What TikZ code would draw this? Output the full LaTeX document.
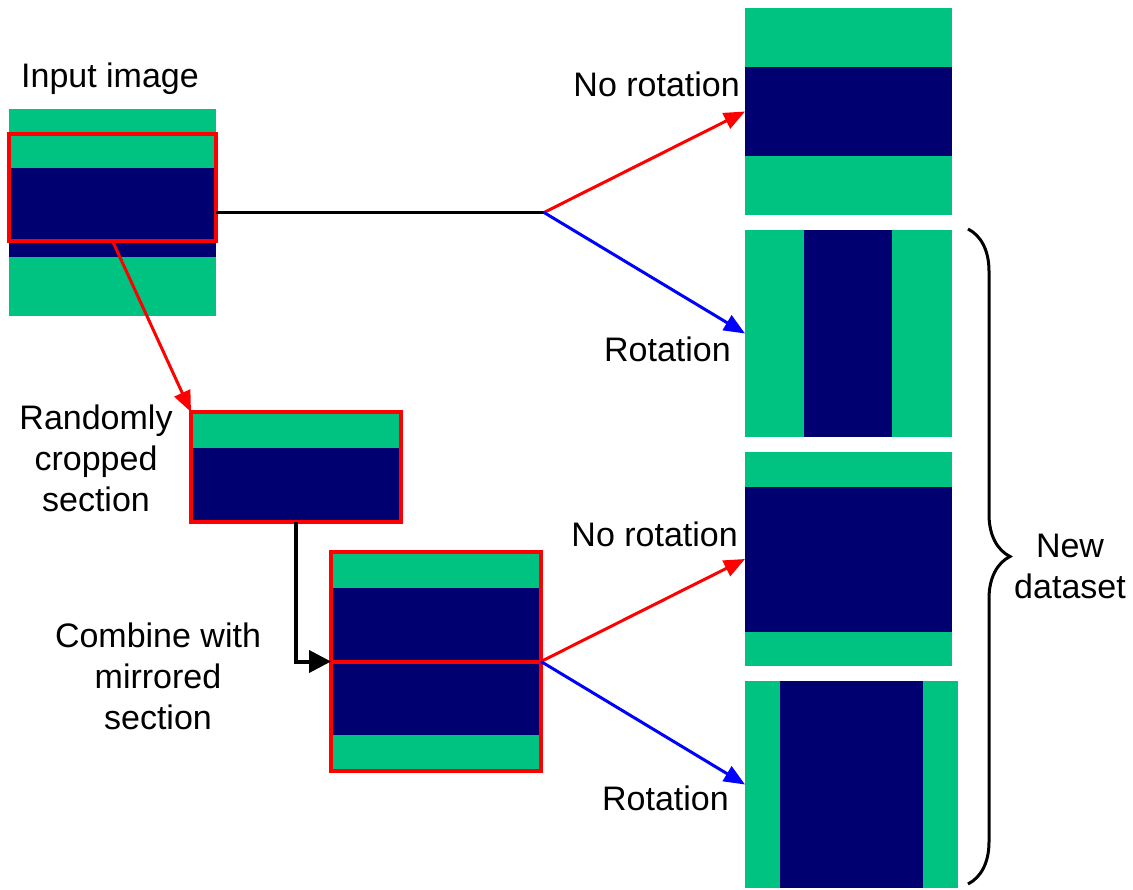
\documentclass[tikz,border=0pt]{standalone}
\usepackage{fontspec}
\setmainfont{Liberation Sans}
\usetikzlibrary{arrows.meta,decorations.pathreplacing}
\definecolor{mygreen}{RGB}{0,195,130}
\definecolor{mynavy}{RGB}{0,0,112}
\begin{document}
\begin{tikzpicture}[x=1pt,y=-1pt,
  box/.style={inner sep=0pt,outer sep=0pt,draw=none},
  frame/.style={inner sep=0pt,outer sep=0pt,draw=red,line width=4pt},
  lbl/.style={inner sep=0pt,font=\fontsize{34}{41}\selectfont},
  tip/.style={-{Triangle[length=21pt,width=17pt]}},
  bigtip/.style={-{Triangle[length=22pt,width=22pt]}},
  conn/.style={line width=3pt}]
\useasboundingbox (0,0) rectangle (1133,890);
% ---- input image
\fill[mygreen] (9,109) rectangle (216,316);
\fill[mynavy] (9,168) rectangle (216,257);
\node[box,minimum width=207pt,minimum height=207pt] (in) at (112.5,212.5) {};
\node[frame,minimum width=207pt,minimum height=107pt] (sel) at (112.5,187.5) {};
% ---- cropped section
\fill[mygreen] (191,412) rectangle (401,522);
\fill[mynavy] (191,448) rectangle (401,522);
\node[frame,minimum width=210pt,minimum height=110pt] (crop) at (296,467) {};
% ---- combined
\fill[mygreen] (331,552) rectangle (541,771);
\fill[mynavy] (331,588) rectangle (541,735);
\node[frame,minimum width=210pt,minimum height=219pt] (comb) at (436,661.5) {};
\draw[red,line width=4pt] (comb.west) -- (comb.east);
% ---- outputs
\fill[mygreen] (745,8) rectangle (952,215);
\fill[mynavy] (745,67) rectangle (952,156);
\node[box,minimum width=207pt,minimum height=207pt] (o1) at (848.5,111.5) {};
\fill[mygreen] (745,230) rectangle (952,437);
\fill[mynavy] (804,230) rectangle (892,437);
\node[box,minimum width=207pt,minimum height=207pt] (o2) at (848.5,333.5) {};
\fill[mygreen] (745,452) rectangle (952,666);
\fill[mynavy] (745,487) rectangle (952,632);
\node[box,minimum width=207pt,minimum height=214pt] (o3) at (848.5,559) {};
\fill[mygreen] (745,681) rectangle (958,888);
\fill[mynavy] (780,681) rectangle (923,888);
\node[box,minimum width=213pt,minimum height=207pt] (o4) at (851.5,784.5) {};
% ---- connectors
\coordinate (split) at (544,212.5);
\draw[conn,black] (in.east) -- (split);
\draw[conn,red,tip] (split) -- (o1.west);
\draw[conn,blue,tip] (split) -- (o2.west);
\draw[conn,red,tip] (sel.south) -- (crop.north west);
\draw[line width=4pt,black,bigtip] (crop.south) |- (comb.west);
\draw[conn,red,tip] (comb.east) -- (o3.west);
\draw[conn,blue,tip] (comb.east) -- (o4.west);
% ---- brace
\coordinate (bt) at (968,229);
\coordinate (bb) at (968,884);
\draw[line width=3pt,decorate,decoration={brace,amplitude=42pt}] (bt) -- (bb);
% ---- labels
\node[lbl,anchor=base] (tin) at (110,88) {Input image};
\node[lbl,anchor=base east] (tnr1) at (740,97) {No rotation};
\node[lbl,anchor=base east] (tr1) at (731,362) {Rotation};
\node[lbl,align=center] (tcrop) at (96,458) {Randomly\\cropped\\section};
\node[lbl,align=center] (tcomb) at (158,676) {Combine with\\mirrored\\section};
\node[lbl,anchor=base east] (tnr2) at (738,546) {No rotation};
\node[lbl,anchor=base east] (tr2) at (729,810) {Rotation};
\node[lbl,align=center] (tnew) at (1070,566) {New\\dataset};
\end{tikzpicture}
\end{document}
